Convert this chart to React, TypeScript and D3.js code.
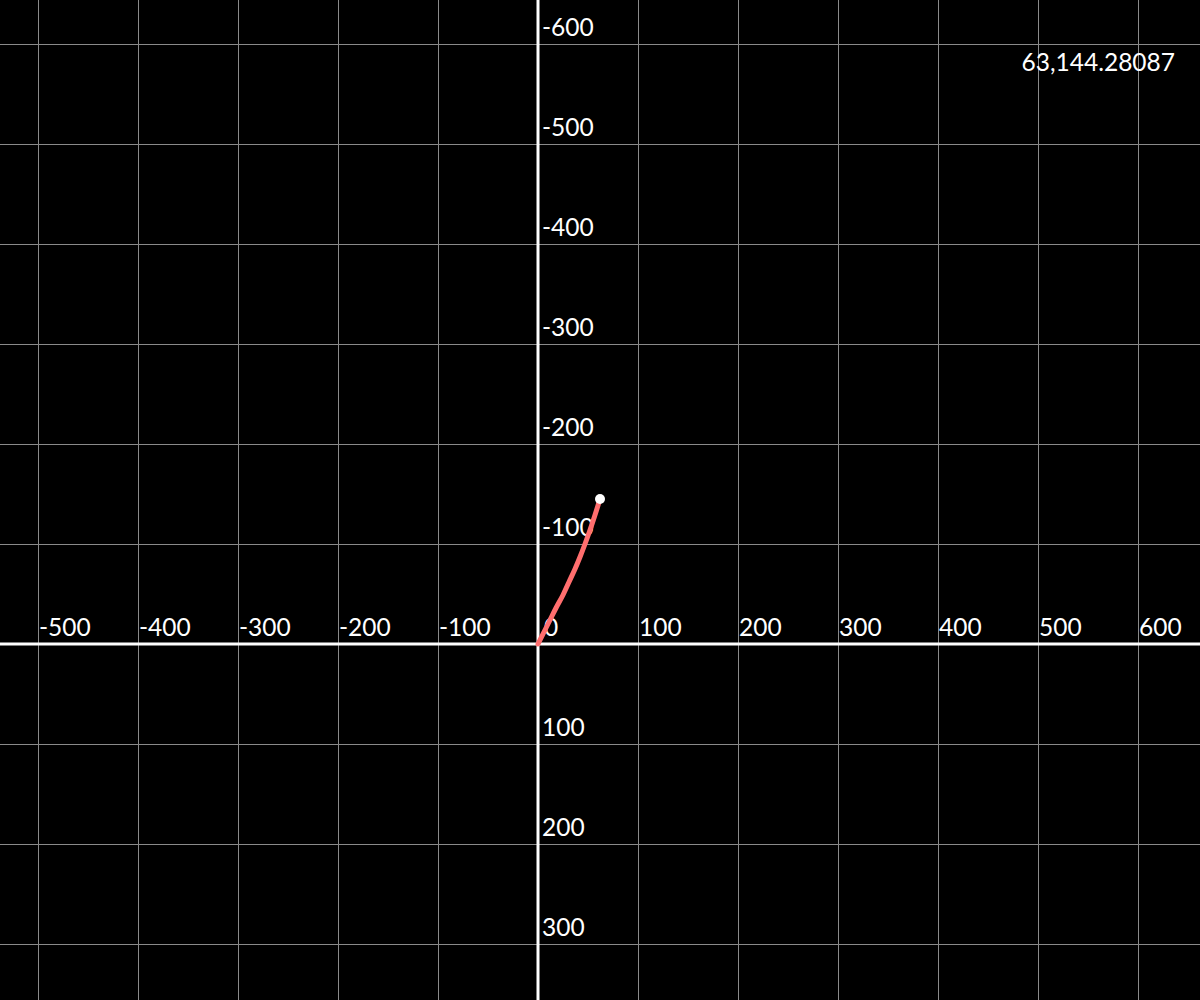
import * as d3 from 'd3';
import React, { useEffect, useRef } from 'react';

const xTicks = [-500, -400, -300, -200, -100, 0, 100, 200, 300, 400, 500, 600];
const yTicks = [-600, -500, -400, -300, -200, -100, 100, 200, 300];
const pathPoints: [number, number][] = [
    [0, 0], [6, -12], [12, -24], [18, -36], [25, -49], [31, -62], [37, -75],
    [42, -87], [47, -100], [52, -114], [57, -129], [62, -145],
];
const readout = '63,144.28087';

export default () => {
    const ref = useRef<any>();
    const width = 1200;
    const height = 1000;

    useEffect(() => {
        const svg = d3.select<any, any>(ref.current);
        svg.selectAll('*').remove();

        const x = d3.scaleLinear().domain([-538, 662]).range([0, width]);
        const y = d3.scaleLinear().domain([-644, 356]).range([0, height]);

        svg.append('rect').attr('width', width).attr('height', height).attr('fill', '#000');

        // grid
        const grid = svg.append('g').attr('stroke', '#8a8a8a').attr('stroke-width', 1);
        grid.selectAll('line.v')
            .data(xTicks.filter(d => d !== 0))
            .join('line')
            .attr('x1', d => x(d) + 0.5).attr('x2', d => x(d) + 0.5)
            .attr('y1', 0).attr('y2', height);
        grid.selectAll('line.h')
            .data(yTicks)
            .join('line')
            .attr('class', 'h')
            .attr('y1', d => y(d) + 0.5).attr('y2', d => y(d) + 0.5)
            .attr('x1', 0).attr('x2', width);

        // axes
        svg.append('line')
            .attr('x1', 0).attr('x2', width)
            .attr('y1', y(0)).attr('y2', y(0))
            .attr('stroke', '#fff').attr('stroke-width', 3);
        svg.append('line')
            .attr('x1', x(0)).attr('x2', x(0))
            .attr('y1', 0).attr('y2', height)
            .attr('stroke', '#fff').attr('stroke-width', 3);

        const labels = svg.append('g')
            .attr('fill', '#fff')
            .attr('font-family', 'Lato, sans-serif')
            .attr('font-size', 24.5);

        labels.selectAll('text.x')
            .data(xTicks)
            .join('text')
            .attr('class', 'x')
            .attr('x', d => x(d) + (d === 0 ? 6 : 1))
            .attr('y', y(0) - 8)
            .text(d => d);

        labels.selectAll('text.y')
            .data(yTicks)
            .join('text')
            .attr('class', 'y')
            .attr('x', x(0) + 4)
            .attr('y', d => y(d) - 8)
            .text(d => d);

        const line = d3.line<[number, number]>()
            .x(d => x(d[0]))
            .y(d => y(d[1]))
            .curve(d3.curveCatmullRom);

        svg.append('path')
            .datum(pathPoints)
            .attr('d', line)
            .attr('fill', 'none')
            .attr('stroke', '#ff6e6e')
            .attr('stroke-width', 5)
            .attr('stroke-linecap', 'round');

        const last = pathPoints[pathPoints.length - 1];
        svg.append('circle')
            .attr('cx', x(last[0]))
            .attr('cy', y(last[1]))
            .attr('r', 5)
            .attr('fill', '#fff');

        labels.append('text')
            .attr('x', 1175)
            .attr('y', 71)
            .attr('text-anchor', 'end')
            .text(readout);
    });

    return (
        <svg ref={ref} width={width} height={height}
            style={{ position: 'fixed', top: 0, left: 0, display: 'block' }} />
    );
}
